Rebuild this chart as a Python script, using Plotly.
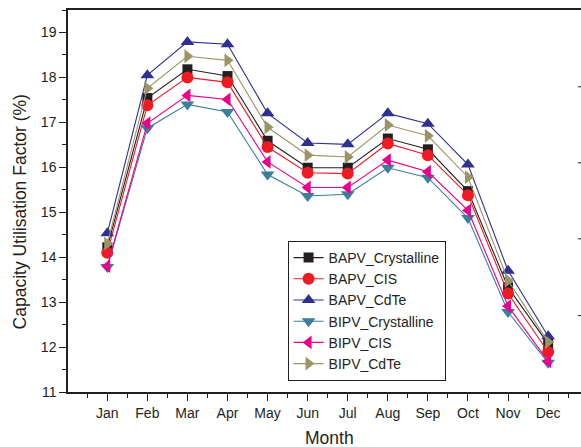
import plotly.graph_objects as go

months = ["Jan", "Feb", "Mar", "Apr", "May", "Jun", "Jul", "Aug", "Sep", "Oct", "Nov", "Dec"]
bapv_crystalline = [14.22, 17.54, 18.18, 18.03, 16.59, 15.99, 15.99, 16.64, 16.40, 15.47, 13.33, 12.07]
bapv_cis = [14.10, 17.38, 18.00, 17.89, 16.45, 15.88, 15.86, 16.53, 16.27, 15.38, 13.19, 11.89]
bapv_cdte = [14.53, 18.05, 18.79, 18.74, 17.20, 16.54, 16.51, 17.20, 16.97, 16.06, 13.70, 12.24]
bipv_crystalline = [13.78, 16.87, 17.40, 17.23, 15.84, 15.36, 15.40, 15.99, 15.77, 14.87, 12.78, 11.65]
bipv_cis = [13.80, 16.98, 17.60, 17.51, 16.12, 15.55, 15.55, 16.16, 15.90, 15.04, 12.91, 11.68]
bipv_cdte = [14.30, 17.76, 18.47, 18.38, 16.89, 16.27, 16.23, 16.94, 16.70, 15.78, 13.48, 12.11]

series = [
    ("BAPV_Crystalline", bapv_crystalline, "#231f20", "square"),
    ("BAPV_CIS", bapv_cis, "#ed1c24", "circle"),
    ("BAPV_CdTe", bapv_cdte, "#2e3192", "triangle-up"),
    ("BIPV_Crystalline", bipv_crystalline, "#3a7f9c", "triangle-down"),
    ("BIPV_CIS", bipv_cis, "#ec008c", "triangle-left"),
    ("BIPV_CdTe", bipv_cdte, "#9b9566", "triangle-right"),
]

xs = list(range(len(months)))
fig = go.Figure()
for name, vals, color, sym in series:
    size = 10 if sym == "square" else 12
    fig.add_trace(go.Scatter(
        x=xs, y=vals, name=name, mode="lines+markers",
        line=dict(color=color, width=1.1),
        marker=dict(symbol=sym, size=size, color=color, line=dict(width=0)),
    ))

font = "Arial, Liberation Sans, sans-serif"
ink = "#231f20"
fig.update_layout(
    width=581, height=447,
    margin=dict(l=68, r=0, t=10, b=55),
    plot_bgcolor="white", paper_bgcolor="white",
    font=dict(family=font, color=ink, size=14),
    showlegend=True,
    legend=dict(
        x=0.428, y=0.212, xanchor="left", yanchor="middle",
        bordercolor=ink, borderwidth=1, bgcolor="white",
        font=dict(size=14, family=font, color=ink), tracegroupgap=0,
        itemwidth=30,
    ),
    xaxis=dict(
        range=[-0.98, 11.82], tickmode="array", tickvals=xs, ticktext=months,
        ticks="outside", ticklen=7, tickwidth=1, tickcolor=ink,
        showline=True, linecolor=ink, linewidth=1.5, mirror=True,
        showgrid=False, zeroline=False,
        minor=dict(tickmode="array", tickvals=[i - 0.5 for i in range(13)],
                   ticks="outside", ticklen=4, tickcolor=ink, showgrid=False),
        tickfont=dict(size=14),
    ),
    yaxis=dict(
        range=[11, 19.5], tickmode="linear", tick0=11, dtick=1,
        ticks="outside", ticklen=7, tickwidth=1, tickcolor=ink,
        showline=True, linecolor=ink, linewidth=1.5, mirror=False,
        showgrid=False, zeroline=False,
        minor=dict(tickmode="linear", tick0=11, dtick=0.5,
                   ticks="outside", ticklen=4, tickcolor=ink, showgrid=False),
        tickfont=dict(size=14),
    ),
    annotations=[
        dict(text="Month", xref="x", yref="paper", x=5.55, y=0, yshift=-46,
             xanchor="center", yanchor="middle", showarrow=False,
             font=dict(size=17.5, family=font, color=ink)),
        dict(text="Capacity Utilisation Factor (%)", xref="paper", yref="paper",
             x=0, xshift=-48, y=0.47, textangle=-90, xanchor="center", yanchor="middle",
             showarrow=False, font=dict(size=17.5, family=font, color=ink)),
    ],
)

# small tick marks visible at the right edge of the reference
for yp in [0.799, 0.600, 0.401, 0.200]:
    fig.add_shape(type="line", xref="paper", yref="paper", x0=0.994, x1=1.0,
                  y0=yp, y1=yp, line=dict(color=ink, width=1))

fig.write_html("out.html")
